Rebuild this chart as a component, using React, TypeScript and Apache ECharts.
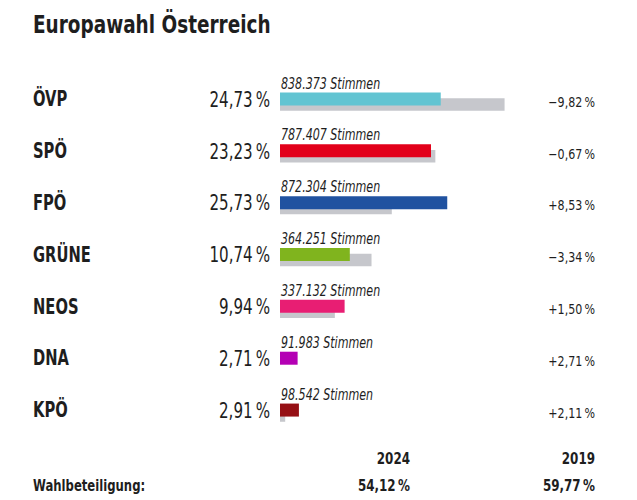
import React, { useEffect, useRef } from "react";
import * as echarts from "echarts";

const parties = ["ÖVP", "SPÖ", "FPÖ", "GRÜNE", "NEOS", "DNA", "KPÖ"];
const share2024 = [24.73, 23.23, 25.73, 10.74, 9.94, 2.71, 2.91];
const share2019 = [34.55, 23.9, 17.2, 14.08, 8.44, 0, 0.8];
const changes = [-9.82, -0.67, 8.53, -3.34, 1.5, 2.71, 2.11];
const votes = ["838.373", "787.407", "872.304", "364.251", "337.132", "91.983", "98.542"];
const colors = ["#62c4d2", "#e2001a", "#2052a0", "#80b41e", "#e81e73", "#b400b4", "#961015"];
const years = ["2024", "2019"];
const turnout = [54.12, 59.77];

const F = "'DejaVu Sans Condensed', 'DejaVu Sans', sans-serif";
const TXT = "#1e1e1e";
const GRAY = "#c6c7cc";

const fmt = (n: number) => Math.abs(n).toFixed(2).replace(".", ",") + "\u2009%";
const fmtChange = (n: number) => (n < 0 ? "\u2212" : "+") + fmt(n);

export default function App() {
  const ref = useRef<HTMLDivElement>(null);
  useEffect(() => {
    document.body.style.margin = "0";
    const chart = echarts.init(ref.current!, null, { renderer: "svg" });
    const data = parties.map((p, i) => [share2024[i], i, share2019[i]]);
    chart.setOption({
      animation: false,
      grid: { left: 280, right: 97, top: 73, bottom: 64 },
      xAxis: { type: "value", min: 0, max: 40, show: false },
      yAxis: { type: "category", data: parties, inverse: true, show: false },
      series: [
        {
          type: "custom",
          encode: { x: [0, 2], y: 1 },
          data,
          renderItem: (params: any, api: any) => {
            const idx = api.value(1);
            const v24 = api.value(0);
            const v19 = api.value(2);
            const s = api.coord([0, idx]);
            const e24 = api.coord([v24, idx]);
            const e19 = api.coord([v19, idx]);
            const cy = s[1];
            return {
              type: "group",
              children: [
                {
                  type: "rect",
                  shape: { x: s[0], y: cy - 0.8, width: e19[0] - s[0], height: 12.5 },
                  style: { fill: GRAY },
                },
                {
                  type: "rect",
                  shape: { x: s[0], y: cy - 6.5, width: e24[0] - s[0], height: 13 },
                  style: { fill: colors[idx] },
                },
                {
                  type: "text",
                  x: s[0] + 1,
                  y: cy - 16,
                  scaleX: 0.77,
                  style: {
                    text: votes[idx] + " Stimmen",
                    fontFamily: F,
                    fontSize: 16,
                    fontStyle: "italic",
                    fill: TXT,
                    align: "left",
                    verticalAlign: "middle",
                  },
                },
                {
                  type: "text",
                  x: 33,
                  y: cy,
                  scaleX: 0.78,
                  style: {
                    text: parties[idx],
                    fontFamily: F,
                    fontSize: 21,
                    fontWeight: "bold",
                    fill: TXT,
                    align: "left",
                    verticalAlign: "middle",
                  },
                },
                {
                  type: "text",
                  x: 270,
                  y: cy,
                  scaleX: 0.8,
                  style: {
                    text: fmt(share2024[idx]),
                    fontFamily: F,
                    fontSize: 21,
                    fill: TXT,
                    align: "right",
                    verticalAlign: "middle",
                  },
                },
                {
                  type: "text",
                  x: 595,
                  y: cy + 3,
                  scaleX: 0.88,
                  style: {
                    text: fmtChange(changes[idx]),
                    fontFamily: F,
                    fontSize: 14,
                    fill: TXT,
                    align: "right",
                    verticalAlign: "middle",
                  },
                },
              ],
            };
          },
        },
      ],
      graphic: [
        {
          type: "text",
          x: 33,
          y: 24,
          scaleX: 0.82,
          style: { text: "Europawahl Österreich", fontFamily: F, fontSize: 25, fontWeight: "bold", fill: TXT, align: "left", verticalAlign: "middle" },
        },
        {
          type: "text",
          x: 410,
          y: 458,
          scaleX: 0.83,
          style: { text: years[0], fontFamily: F, fontSize: 16, fontWeight: "bold", fill: TXT, align: "right", verticalAlign: "middle" },
        },
        {
          type: "text",
          x: 595,
          y: 458,
          scaleX: 0.83,
          style: { text: years[1], fontFamily: F, fontSize: 16, fontWeight: "bold", fill: TXT, align: "right", verticalAlign: "middle" },
        },
        {
          type: "text",
          x: 33,
          y: 485,
          scaleX: 0.81,
          style: { text: "Wahlbeteiligung:", fontFamily: F, fontSize: 16, fontWeight: "bold", fill: TXT, align: "left", verticalAlign: "middle" },
        },
        {
          type: "text",
          x: 410,
          y: 485,
          scaleX: 0.83,
          style: { text: fmt(turnout[0]), fontFamily: F, fontSize: 16, fontWeight: "bold", fill: TXT, align: "right", verticalAlign: "middle" },
        },
        {
          type: "text",
          x: 595,
          y: 485,
          scaleX: 0.83,
          style: { text: fmt(turnout[1]), fontFamily: F, fontSize: 16, fontWeight: "bold", fill: TXT, align: "right", verticalAlign: "middle" },
        },
      ],
    });
    return () => chart.dispose();
  }, []);
  return <div ref={ref} style={{ width: 637, height: 500 }} />;
}
